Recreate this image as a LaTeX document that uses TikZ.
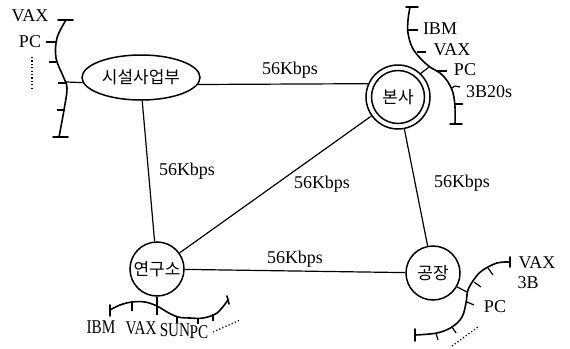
\documentclass[tikz,border=0pt]{standalone}
\usepackage{fontspec}
\setmainfont{Liberation Serif}
\newfontfamily\kr{Noto Sans CJK KR}
\newfontfamily\narrowserif[FakeStretch=0.78]{Liberation Serif}
\usetikzlibrary{shapes.geometric}
\begin{document}
\begin{tikzpicture}[x=1pt,y=-1pt,
  site/.style={draw, line width=1.5pt, inner sep=0pt, font=\kr\fontsize{17}{17}\selectfont},
  link/.style={line width=1.2pt},
  bus/.style={line width=1.6pt, line cap=round},
  tap/.style={line width=1.2pt},
  speed/.style={font=\fontsize{18}{18}\selectfont, inner sep=0pt},
  host/.style={font=\fontsize{18}{18}\selectfont, inner sep=0pt},
  nhost/.style={font=\narrowserif\fontsize{19.5}{19.5}\selectfont, inner sep=0pt},
  dots/.style={line width=1.3pt, dash pattern=on 1.2pt off 2.2pt}]
\useasboundingbox (0,0) rectangle (570,348);

% sites
\node[site, ellipse, minimum width=118pt, minimum height=45pt] (sis) at (141,77.5) {시설사업부};
\node[site, circle, minimum size=64pt] (bonsa) at (398,97) {본사};
\draw[line width=1.5pt] (bonsa.center) circle[radius=26.5pt];
\node[site, circle, minimum size=54pt] (yeon) at (157,269) {연구소};
\node[site, circle, minimum size=54pt] (gong) at (433,273) {공장};

% 56 Kbps links
\draw[link] (sis.-7) -- (bonsa.156);
\draw[link] (sis.-87) -- (yeon.95);
\draw[link] (yeon) -- (bonsa);
\draw[link] (bonsa) -- (gong);
\draw[link] (yeon) -- (gong);

\node[speed] (s1) at (290,70) {56Kbps};
\node[speed] (s2) at (187,171) {56Kbps};
\node[speed] (s3) at (322,184) {56Kbps};
\node[speed] (s4) at (462,183) {56Kbps};
\node[speed] (s5) at (295,259) {56Kbps};

% local bus at 시설사업부
\draw[bus] plot[smooth, tension=0.6] coordinates {(66,20) (57,38) (56,58) (63,76) (67,88) (64,110) (59,137)};
\draw[bus] (58,20) -- (73,20);
\draw[bus] (53,137) -- (68,137);
\draw[tap] (56,42) -- (46,42);
\draw[tap] (56,62) -- (49,62);
\draw[tap] (66,83) -- (58,83);
\draw[tap] (65,110) -- (57,110);
\coordinate (j1) at (66,82);
\draw[tap] (j1) -- (sis.185);
\node[host] (vax1) at (30,16) {VAX};
\node[host] (pc1) at (30,42) {PC};
\draw[dots] (32,57) -- (32,88);

% local bus at 본사
\draw[bus] plot[smooth, tension=0.6] coordinates {(410,7) (408,20) (408,33) (412,47) (420,58) (430,67) (440,73) (448,82) (453,93) (455,107) (455,124)};
\draw[bus] (406,7) -- (418,7);
\draw[bus] (450,124) -- (462,124);
\draw[tap] (408,30) -- (418,30);
\draw[tap] (417,52) -- (426,52);
\draw[tap] (437,71) -- (447,71);
\draw[tap] (452,88) -- (455,86) -- (460,87);
\draw[tap] (455,104) -- (463,104);
\coordinate (j2) at (429,67);
\draw[tap] (bonsa.46) -- (j2);
\node[host] (ibm2) at (440,29) {IBM};
\node[host] (vax2) at (452,50) {VAX};
\node[host] (pc2) at (465,70) {PC};
\node[host] (b2) at (489,92) {3B20s};

% local bus at 연구소
\draw[bus] plot[smooth, tension=0.6] coordinates {(110,310) (120,305) (132,302) (145,302) (157,306) (167,312) (178,317) (190,318) (203,318) (217,313) (228,300)};
\draw[bus] (110,305) -- (110,316);
\draw[bus] (227,296) -- (229,304);
\draw[tap] (132,302) -- (132,311);
\draw[tap] (157,306) -- (157,315);
\draw[tap] (177,316) -- (177,323);
\draw[tap] (198,318) -- (198,324);
\draw[tap] (213,314) -- (213,321);
\coordinate (j3) at (157,306);
\draw[tap] (yeon.south) -- (j3);
\node[nhost] (ibm3) at (101,327) {IBM};
\node[nhost] (vax3) at (141,328) {VAX};
\node[nhost] (sun3) at (175,330) {SUN};
\node[nhost] (pc3) at (199,332) {PC};
\draw[dots] (213,332) -- (240,320);

% local bus at 공장
\draw[bus] plot[smooth, tension=0.6] coordinates {(510,262) (497,263) (483,270) (475,278) (468,290) (466,303) (462,317) (452,327) (437,333) (415,335)};
\draw[bus] (510,257) -- (510,267);
\draw[bus] (415,329) -- (415,341);
\draw[tap] (488,268) -- (493,275);
\draw[tap] (474,282) -- (481,287);
\draw[tap] (467,302) -- (474,305);
\draw[tap] (452,327) -- (456,333);
\draw[tap] (436,333) -- (438,340);
\coordinate (j4) at (467,292);
\draw[tap] (gong.-30) -- (j4);
\node[host] (vax4) at (537,263) {VAX};
\node[host] (b4) at (528,283) {3B};
\node[host] (pc4) at (495,307) {PC};
\draw[dots] (452,346) -- (478,327);
\end{tikzpicture}
\end{document}
